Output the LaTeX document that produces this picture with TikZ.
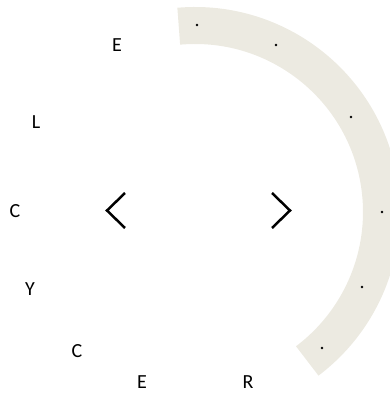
\documentclass[tikz,border=0pt]{standalone}
\usepackage{fontspec}
\setmainfont{Carlito}
\definecolor{ringbeige}{RGB}{236,234,225}
\tikzset{
  letter/.style={font=\fontsize{20}{24}\selectfont, inner sep=0pt},
  chevron/.style={line width=2.5pt},
  knob/.style={fill=black}
}
\begin{document}
\begin{tikzpicture}[x=1pt,y=1pt]
\useasboundingbox (-195,-181) rectangle (195,212);

% Ring band
\draw[ringbeige, line width=37pt] (95:186.5) arc (95:-53:186.5);

% Dots on the band
\fill[knob] (2,187) circle (1.3);
\fill[knob] (81,167) circle (1.3);
\fill[knob] (156,95) circle (1.3);
\fill[knob] (187,0) circle (1.3);
\fill[knob] (167,-75) circle (1.3);
\fill[knob] (127,-136) circle (1.3);

% Letters
\node[letter] (e1) at (-78,167) {E};
\node[letter] (l) at (-159,90) {L};
\node[letter] (c1) at (-180,1) {C};
\node[letter] (y) at (-165,-77) {Y};
\node[letter] (c2) at (-118,-139) {C};
\node[letter] (e2) at (-53,-170) {E};
\node[letter] (r) at (53,-170) {R};

% Arrows
\draw[chevron] (-70,19) -- (-88,1.5) -- (-70,-16);
\draw[chevron] (77,19) -- (95,1.5) -- (77,-16);

\end{tikzpicture}
\end{document}
